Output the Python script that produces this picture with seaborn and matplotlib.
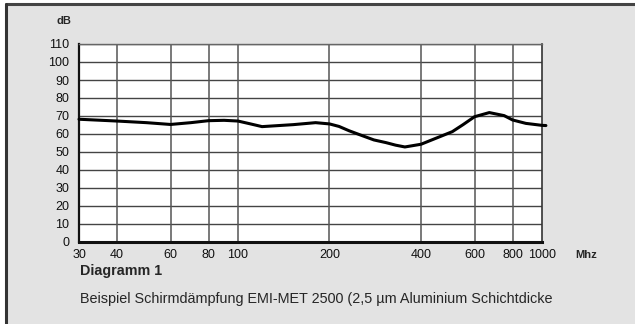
import numpy as np
import pandas as pd
import matplotlib
matplotlib.use("Agg")
import matplotlib.pyplot as plt
from matplotlib.lines import Line2D
import seaborn as sns

# curve (frequency in MHz, attenuation in dB)
freq_mhz = [30, 40, 50, 60, 70, 80, 90, 100, 110, 120, 152, 180, 200, 215,
            232, 258, 280, 307, 330, 354, 400, 507, 550, 600, 671, 751, 800,
            885, 1000, 1030]
daempfung_db = [68.2, 67.2, 66.3, 65.3, 66.3, 67.4, 67.6, 67.2, 65.6, 64.1,
                65.2, 66.3, 65.6, 64.2, 61.8, 58.9, 56.7, 55.2, 53.8, 52.8,
                54.3, 61.3, 65.2, 69.6, 71.9, 70.2, 67.8, 65.9, 64.8, 64.7]

x_ticks = [30, 40, 60, 80, 100, 200, 400, 600, 800, 1000]
y_ticks = list(range(0, 111, 10))

df = pd.DataFrame({"MHz": freq_mhz, "dB": daempfung_db})

sns.set_style("white")
plt.rcParams["font.family"] = ["Liberation Sans", "DejaVu Sans"]

bg = "#e3e3e3"
fig = plt.figure(figsize=(6.35, 3.24), dpi=100, facecolor="white")

# grey panel with dark top/left edge
fig.patches.append(plt.Rectangle((6 / 635, -0.1), 1.2, 1.1 - 4 / 324, transform=fig.transFigure,
                                 facecolor=bg, edgecolor="none", zorder=-2))
fig.lines.append(Line2D([6 / 635, 1.05], [1 - 4 / 324, 1 - 4 / 324], transform=fig.transFigure,
                        color="#444444", lw=2.2))
fig.lines.append(Line2D([6 / 635, 6 / 635], [-0.05, 1 - 4 / 324], transform=fig.transFigure,
                        color="#333333", lw=2.2))

ax = fig.add_axes([79 / 635, 1 - 242 / 324, 463 / 635, 198 / 324])
ax.set_facecolor("white")

ax.set_xscale("log")
ax.set_xlim(30, 1000)
ax.set_ylim(0, 110)

# grid
for v in y_ticks[1:]:
    ax.axhline(v, color="#444444", lw=1.0, zorder=1)
for v in x_ticks[1:-1]:
    ax.axvline(v, color="#555555", lw=1.1, zorder=1)

sns.lineplot(data=df, x="MHz", y="dB", ax=ax, color="black", lw=2.2,
             zorder=3, clip_on=False, solid_joinstyle="round",
             solid_capstyle="round")

ax.set_xticks(x_ticks)
ax.set_xticklabels([str(t) for t in x_ticks])
ax.xaxis.set_minor_locator(matplotlib.ticker.NullLocator())
ax.set_yticks(y_ticks)
ax.tick_params(axis="both", length=0, labelsize=9, colors="#111111")
ax.tick_params(axis="x", pad=5)
ax.tick_params(axis="y", pad=7)
ax.set_xlabel("")
ax.set_ylabel("")

for side in ["left", "bottom"]:
    ax.spines[side].set_color("#111111")
ax.spines["left"].set_linewidth(1.6)
ax.spines["bottom"].set_linewidth(2.2)
ax.spines["top"].set_color("#666666")
ax.spines["top"].set_linewidth(1.0)
ax.spines["right"].set_color("#333333")
ax.spines["right"].set_linewidth(1.2)

fig.text(64 / 635, 1 - 21 / 324, "dB", fontsize=8, fontweight="bold",
         ha="center", va="center")
fig.text(586 / 635, 1 - 255 / 324, "Mhz", fontsize=8, fontweight="bold",
         ha="center", va="center")
fig.text(80 / 635, 1 - 271 / 324, "Diagramm 1", fontsize=10.3, fontweight="bold",
         ha="left", va="center")
fig.text(80 / 635, 1 - 299 / 324,
         "Beispiel Schirmdämpfung EMI-MET 2500 (2,5 µm Aluminium Schichtdicke",
         fontsize=10.4, ha="left", va="center")

fig.savefig("out.png", dpi=100, facecolor=fig.get_facecolor())
